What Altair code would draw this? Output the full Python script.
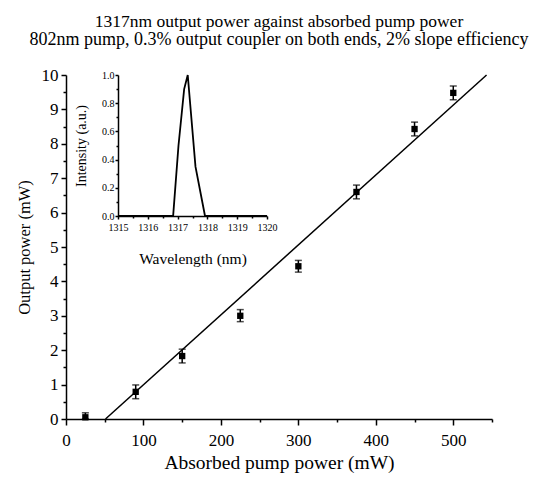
import altair as alt
import pandas as pd

pump = [25, 90, 150, 225, 300, 375, 450, 500]
power = [0.05, 0.79, 1.83, 3.0, 4.44, 6.6, 8.43, 9.48]
power_lo = [0.0, 0.59, 1.63, 2.83, 4.27, 6.4, 8.23, 9.28]
power_hi = [0.18, 0.99, 2.03, 3.18, 4.61, 6.8, 8.63, 9.68]

# Linear fit line end points
fit_x = [51, 543]
fit_y = [0, 10]

# Inset spectrum
wavelength = [1315, 1316.85, 1317.03, 1317.22, 1317.34, 1317.6, 1317.92, 1320]
intensity = [0, 0, 0.5, 0.9, 1.0, 0.35, 0, 0]

# Tick values
x_ticks = [0, 100, 200, 300, 400, 500]
x_minor = [50, 150, 250, 350, 450, 550]
y_ticks = [0, 1, 2, 3, 4, 5, 6, 7, 8, 9, 10]
y_minor = [0.5, 1.5, 2.5, 3.5, 4.5, 5.5, 6.5, 7.5, 8.5, 9.5]
in_x_ticks = [1315, 1316, 1317, 1318, 1319, 1320]
in_x_minor = [1315.5, 1316.5, 1317.5, 1318.5, 1319.5]
in_y_ticks = [0.0, 0.2, 0.4, 0.6, 0.8, 1.0]
in_y_minor = [0.1, 0.3, 0.5, 0.7, 0.9]

title_line1 = "1317nm output power against absorbed pump power"
title_line2 = "802nm pump, 0.3% output coupler on both ends, 2% slope efficiency"

FONT = "Liberation Serif"
W, H = 426, 344

df = pd.DataFrame({"pump": pump, "power": power, "lo": power_lo, "hi": power_hi})
fit = pd.DataFrame({"pump": fit_x, "power": fit_y})
spec = pd.DataFrame({"wl": wavelength, "inten": intensity})

xs = alt.Scale(domain=[0, 550], nice=False, zero=False)
ys = alt.Scale(domain=[0, 10], nice=False, zero=False)

x_axis = alt.Axis(values=x_ticks, orient="bottom", title="Absorbed pump power (mW)",
                  tickSize=6, labelPadding=7, titlePadding=5, grid=False,
                  labelOverlap=False, labelFlush=False, labelFont=FONT, titleFont=FONT,
                  labelFontSize=17, titleFontSize=19.5, titleFontWeight="normal")
y_axis = alt.Axis(values=y_ticks, orient="left", title="Output power (mW)",
                  tickSize=5, labelPadding=3, titlePadding=9, grid=False,
                  labelOverlap=False, labelFlush=False, labelFont=FONT, titleFont=FONT,
                  labelFontSize=17, titleFontSize=16.5, titleFontWeight="normal")

fit_line = alt.Chart(fit).mark_line(color="black", strokeWidth=1.5).encode(
    x=alt.X("pump:Q", scale=xs, axis=x_axis),
    y=alt.Y("power:Q", scale=ys, axis=y_axis),
)
bars = alt.Chart(df).mark_rule(color="black", strokeWidth=1.5).encode(
    x=alt.X("pump:Q", scale=xs, axis=None),
    y=alt.Y("lo:Q", scale=ys, axis=None), y2="hi:Q")
caps_hi = alt.Chart(df).mark_tick(color="black", orient="horizontal", size=7, thickness=1.5).encode(
    x=alt.X("pump:Q", scale=xs, axis=None), y=alt.Y("hi:Q", scale=ys, axis=None))
caps_lo = alt.Chart(df).mark_tick(color="black", orient="horizontal", size=7, thickness=1.5).encode(
    x=alt.X("pump:Q", scale=xs, axis=None), y=alt.Y("lo:Q", scale=ys, axis=None))
pts = alt.Chart(df).mark_square(color="black", size=40, opacity=1).encode(
    x=alt.X("pump:Q", scale=xs, axis=None), y=alt.Y("power:Q", scale=ys, axis=None))

minor = alt.Chart(df).mark_point(opacity=0).encode(
    x=alt.X("pump:Q", scale=xs,
            axis=alt.Axis(values=x_minor, orient="bottom", labels=False, title=None,
                          tickSize=3, domain=False, grid=False)),
    y=alt.Y("power:Q", scale=ys,
            axis=alt.Axis(values=y_minor, orient="left", labels=False, title=None,
                          tickSize=3, domain=False, grid=False)),
)

# Inset position inside the plot area (pixels from plot origin)
ix0, ix1 = 52, 201
iy0, iy1 = 141, 0
ixs = alt.Scale(domain=[1315, 1320], range=[ix0, ix1], nice=False, zero=False)
iys = alt.Scale(domain=[0, 1], range=[iy0, iy1], nice=False, zero=False)

inset = alt.Chart(spec).mark_line(color="black", strokeWidth=1.8).encode(
    x=alt.X("wl:Q", scale=ixs,
            axis=alt.Axis(values=in_x_ticks, orient="bottom", offset=-(H - iy0),
                          title="Wavelength (nm)", format="d", tickSize=3,
                          labelPadding=3, titlePadding=19, grid=False,
                          labelOverlap=False, labelFlush=False, labelFont=FONT, titleFont=FONT,
                          labelFontSize=10, titleFontSize=15.5, titleFontWeight="normal")),
    y=alt.Y("inten:Q", scale=iys,
            axis=alt.Axis(values=in_y_ticks, orient="left", offset=-ix0,
                          title="Intensity (a.u.)", format=".1f", tickSize=3,
                          labelPadding=1, titlePadding=13, grid=False,
                          labelOverlap=False, labelFlush=False, labelFont=FONT, titleFont=FONT,
                          labelFontSize=10, titleFontSize=14, titleFontWeight="normal")),
)
inset_minor = alt.Chart(spec).mark_point(opacity=0).encode(
    x=alt.X("wl:Q", scale=ixs,
            axis=alt.Axis(values=in_x_minor, orient="bottom", offset=-(H - iy0),
                          labels=False, title=None, tickSize=2, domain=False, grid=False)),
    y=alt.Y("inten:Q", scale=iys,
            axis=alt.Axis(values=in_y_minor, orient="left", offset=-ix0,
                          labels=False, title=None, tickSize=2, domain=False, grid=False)),
)

chart = alt.layer(
    fit_line, bars, caps_hi, caps_lo, pts, minor, inset, inset_minor
).resolve_scale(
    x="independent", y="independent"
).properties(
    width=W, height=H,
    title=alt.TitleParams(
        title_line1, subtitle=title_line2,
        font=FONT, fontSize=17.5, fontWeight="normal", anchor="middle",
        subtitleFont=FONT, subtitleFontSize=18, subtitleFontWeight="normal",
        subtitleColor="black", subtitlePadding=1,
        offset=17, color="black"),
    autosize=alt.AutoSizeParams(type="none"),
    padding={"left": 58, "top": 67, "right": 46, "bottom": 54},
    background="white",
).configure(font=FONT).configure_view(stroke=None).configure_axis(
    labelFont=FONT, titleFont=FONT, labelColor="black", titleColor="black",
    domainColor="black", tickColor="black", domainWidth=1.5, tickWidth=1.5,
    titleFontWeight="normal",
).configure_title(font=FONT, fontWeight="normal")

chart.save("out.html", embed_options={"renderer": "svg", "actions": False})
